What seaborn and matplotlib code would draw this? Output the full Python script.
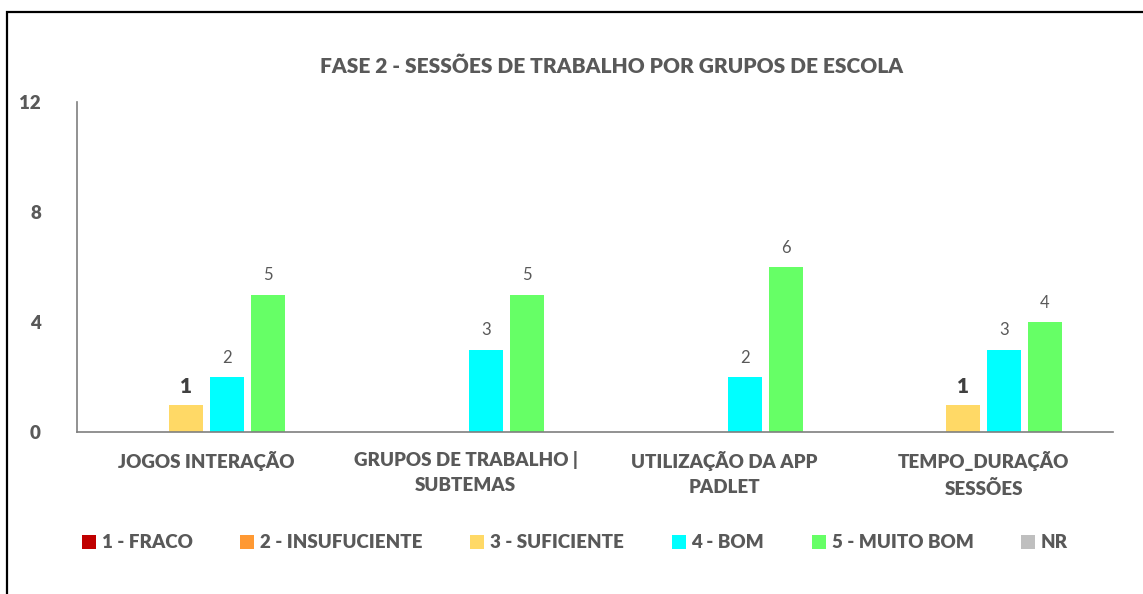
import pandas as pd
import matplotlib.pyplot as plt
import seaborn as sns
from matplotlib.patches import Rectangle

# Dados
categorias = ['JOGOS INTERAÇÃO', 'GRUPOS DE TRABALHO |\nSUBTEMAS',
              'UTILIZAÇÃO DA APP\nPADLET', 'TEMPO_DURAÇÃO\nSESSÕES']
series = ['1 - FRACO', '2 - INSUFUCIENTE', '3 - SUFICIENTE', '4 - BOM', '5 - MUITO BOM', 'NR']
fraco = [0, 0, 0, 0]
insuficiente = [0, 0, 0, 0]
suficiente = [1, 0, 0, 1]
bom = [2, 3, 2, 3]
muito_bom = [5, 5, 6, 4]
nr = [0, 0, 0, 0]
cores = ['#C00000', '#FF9933', '#FFD966', '#00FFFF', '#66FF66', '#BFBFBF']
y_ticks = [0, 4, 8, 12]

GRAY = '#595959'


def build_df():
    rows = []
    for nome, vals in zip(series, [fraco, insuficiente, suficiente, bom, muito_bom, nr]):
        for cat, v in zip(categorias, vals):
            rows.append({'categoria': cat, 'serie': nome, 'valor': v})
    return pd.DataFrame(rows)


sns.set_theme(style="white")
plt.rcParams['font.family'] = ['Lato', 'DejaVu Sans']

df = build_df()

fig = plt.figure(figsize=(11.43, 5.94), dpi=100)
ax = fig.add_axes([0.0674, 0.2727, 0.9064, 0.5556])

sns.barplot(data=df, x='categoria', y='valor', hue='serie', order=categorias,
            hue_order=series, palette=cores, saturation=1, width=0.95, gap=0.17,
            linewidth=0, ax=ax)

ax.set_ylim(0, 12)
ax.set_yticks(y_ticks)
ax.set_xlim(-0.5, len(categorias) - 0.5)
ax.set(xlabel='', ylabel='')
ax.tick_params(axis='both', length=0, colors=GRAY, labelsize=13.5)
ax.tick_params(axis='x', pad=14)
ax.tick_params(axis='y', pad=26)
for lab in ax.get_xticklabels() + ax.get_yticklabels():
    lab.set_fontweight('heavy')
for lab in ax.get_xticklabels():
    lab.set_linespacing(1.55)
for s in ['top', 'right']:
    ax.spines[s].set_visible(False)
for s in ['left', 'bottom']:
    ax.spines[s].set_color('#7F7F7F')
    ax.spines[s].set_linewidth(1.2)

# Rótulos de valores
for cont, nome in zip(ax.containers, series):
    vals = [b.get_height() for b in cont]
    labels = [f"{v:.0f}" if v > 0 else '' for v in vals]
    if nome == '3 - SUFICIENTE':
        ax.bar_label(cont, labels=labels, padding=6, fontsize=15,
                     fontweight='heavy', color='#404040')
    else:
        ax.bar_label(cont, labels=labels, padding=8, fontsize=12, color=GRAY)

# Legenda
handles, lbls = ax.get_legend_handles_labels()
if ax.legend_:
    ax.legend_.remove()
fig.legend(handles, lbls, loc='center', bbox_to_anchor=(0.503, 0.086), ncol=6,
           frameon=False, handlelength=0.75, handleheight=0.75, handletextpad=0.3,
           columnspacing=2.55, prop={'size': 13.5, 'weight': 'heavy'},
           labelcolor=GRAY)

fig.suptitle('FASE 2 - SESSÕES DE TRABALHO POR GRUPOS DE ESCOLA', x=0.535, y=0.905,
             fontsize=15, fontweight='heavy', color=GRAY)

# Moldura
fig.patches.append(Rectangle((7 / 1143, -0.2), 1.2, 1.2 - 12 / 594,
                             transform=fig.transFigure, fill=False,
                             edgecolor='black', linewidth=1.6))

fig.savefig('out.png', dpi=100, facecolor='white')
